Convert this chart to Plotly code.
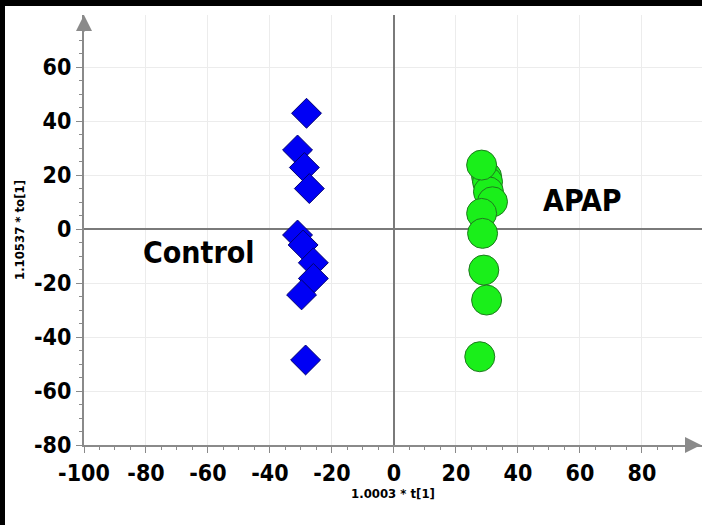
import plotly.graph_objects as go

# Data
control_x = [-28.2, -31.1, -28.9, -27.3, -31.1, -29.3, -26.0, -26.0, -29.8, -28.5]
control_y = [42.9, 29.3, 22.8, 15.0, -2.2, -5.9, -12.5, -18.3, -24.4, -48.5]
apap_x = [29.9, 30.2, 30.5, 31.8, 28.3, 28.3, 28.6, 29.0, 29.9, 27.7]
apap_y = [19.4, 17.5, 13.8, 10.1, 23.7, 5.8, -1.6, -15.2, -26.3, -47.3]

x_ticks = [-100, -80, -60, -40, -20, 0, 20, 40, 60, 80]
x_ticktext = ["-100", "-80", "-60", "-40", "-20", "0", "20", "40", "60", "80"]
y_ticks = [-80, -60, -40, -20, 0, 20, 40, 60]
y_ticktext = ["-80", "-60", "-40", "-20", "0", "20", "40", "60"]

x_title = "1.0003 * t[1]"
y_title = "1.10537 * to[1]"
group_labels = ["Control", "APAP"]
label_pos = [(-63, -8.5), (61, 10.5)]

FONT = "Liberation Sans Narrow, DejaVu Sans Condensed, Arial, sans-serif"
AXIS_GRAY = "#8a8a8a"

fig = go.Figure()
fig.add_trace(go.Scatter(
    x=control_x, y=control_y, mode="markers", name="Control",
    marker=dict(symbol="diamond", size=23, color="#0000f5",
                line=dict(color="#000070", width=1)),
))
fig.add_trace(go.Scatter(
    x=apap_x, y=apap_y, mode="markers", name="APAP",
    marker=dict(symbol="circle", size=30, color="#1aef1a",
                line=dict(color="#1f7a1f", width=1)),
))

for text, (tx, ty) in zip(group_labels, label_pos):
    fig.add_annotation(x=tx, y=ty, text=f"<b>{text}</b>", showarrow=False,
                       font=dict(family=FONT, size=30, color="black"))

# arrowheads at the axis ends
fig.add_annotation(x=1, y=0, xref="paper", yref="paper", ax=-18, ay=0,
                   text="", showarrow=True, arrowhead=2, arrowsize=1.6,
                   arrowwidth=2, arrowcolor=AXIS_GRAY)
fig.add_annotation(x=0, y=1, xref="paper", yref="paper", ax=0, ay=18,
                   text="", showarrow=True, arrowhead=2, arrowsize=1.6,
                   arrowwidth=2, arrowcolor=AXIS_GRAY)

# black frame bands (top and left) of the original picture
fig.add_shape(type="rect", xref="paper", yref="paper",
              x0=-84 / 618, x1=1.01, y0=(445 - 6) / 430, y1=(445 + 0) / 430 + 1,
              fillcolor="black", line_width=0, layer="above")
fig.add_shape(type="rect", xref="paper", yref="paper",
              x0=-84 / 618, x1=(5 - 84) / 618, y0=-85 / 430, y1=1.1,
              fillcolor="black", line_width=0, layer="above")

axis_common = dict(
    showgrid=True, gridcolor="#ececec", gridwidth=1,
    zeroline=True, zerolinecolor="#7a7a7a", zerolinewidth=2,
    showline=True, linecolor=AXIS_GRAY, linewidth=2,
    ticks="outside", ticklen=6, tickwidth=1, tickcolor=AXIS_GRAY,
    tickfont=dict(family=FONT, size=23, color="black"),
)

fig.update_xaxes(
    range=[-100, 99.4], tickvals=x_ticks, ticktext=[f"<b>{t}</b>" for t in x_ticktext],
    minor=dict(dtick=5, ticklen=3, tickcolor=AXIS_GRAY, showgrid=False, ticks="outside"),
    title=dict(text=f"<b>{x_title}</b>", font=dict(family=FONT, size=13, color="black"), standoff=3),
    **axis_common,
)
fig.update_yaxes(
    range=[-80, 79.3], tickvals=y_ticks, ticktext=[f"<b>{t}</b>" for t in y_ticktext],
    minor=dict(dtick=5, ticklen=3, tickcolor=AXIS_GRAY, showgrid=False, ticks="outside"),
    title=dict(text=f"<b>{y_title}</b>", font=dict(family=FONT, size=13, color="black"), standoff=6),
    **axis_common,
)

fig.update_layout(
    width=702, height=525,
    margin=dict(l=84, r=0, t=15, b=80),
    paper_bgcolor="white", plot_bgcolor="white",
    showlegend=False,
)

fig.write_html("out.html")
